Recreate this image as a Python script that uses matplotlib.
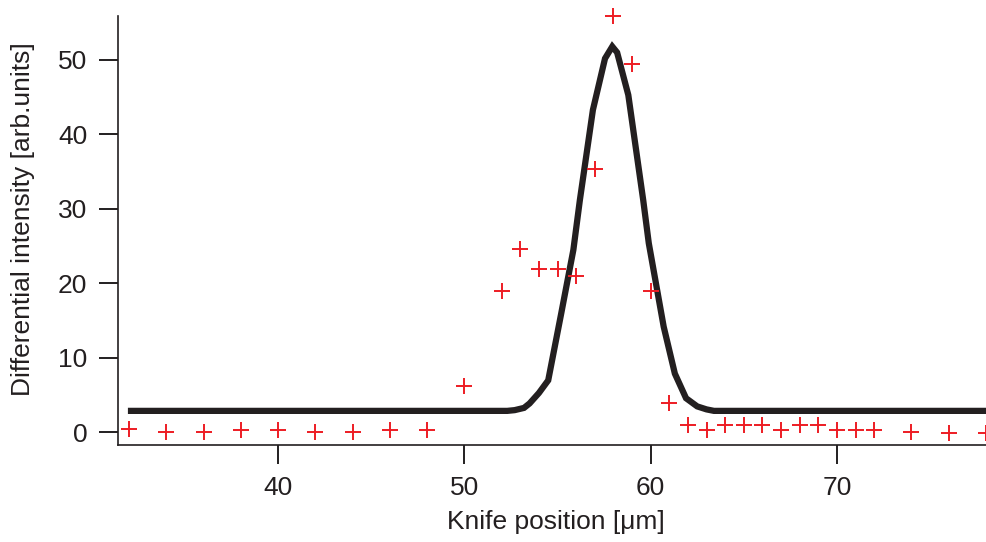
import matplotlib
matplotlib.use("Agg")
import matplotlib.pyplot as plt

plt.rcParams['font.family'] = ['Liberation Sans', 'DejaVu Sans']

# measured points (red crosses)
pos_x = [32, 34, 36, 38, 40, 42, 44, 46, 48, 50, 52, 53, 54, 55, 56, 57, 58, 59, 60,
         61, 62, 63, 64, 65, 66, 67, 68, 69, 70, 71, 72, 74, 76, 78]
intensity = [0.43, 0.1, 0.1, 0.4, 0.4, 0.1, 0.1, 0.4, 0.4, 6.24, 19.0, 24.6, 22.0, 22.0,
             21.0, 35.4, 55.9, 49.5, 19.0,
             3.9, 1.0, 0.34, 1.0, 1.0, 1.0, 0.34, 1.0, 1.0, 0.34, 0.34, 0.34, 0.1, -0.1, -0.1]

# fitted curve (vertices)
fit_x = [32.1, 52.3, 52.7, 53.2, 53.5, 54.0, 54.5, 55.2, 55.85, 56.2, 56.9, 57.55, 57.94,
         58.2, 58.8, 59.6, 59.9, 60.7, 61.3, 61.9, 62.5, 63.0, 63.4, 78.0]
fit_y = [2.9, 2.9, 3.0, 3.3, 3.9, 5.3, 7.0, 16.0, 24.5, 31.2, 43.3, 50.2, 51.8,
         51.0, 45.3, 31.2, 25.4, 14.2, 7.9, 4.6, 3.5, 3.1, 2.9, 2.9]

xticks = [40, 50, 60, 70]
yticks = [0, 10, 20, 30, 40, 50]

dark = '#231f20'
red = '#ed1c24'

fig = plt.figure(figsize=(9.87, 5.42), dpi=100)
ax = fig.add_axes([118/987, 1-445/542, 1-118/987, (445-16)/542])

ax.plot(fit_x, fit_y, color=dark, lw=4.5, solid_joinstyle='miter', zorder=2)
ax.plot(pos_x, intensity, linestyle='none', marker='+', markersize=11,
        markeredgewidth=1.4, color=red, clip_on=False, zorder=3)

ax.set_xlim(31.4, 78.06)
ax.set_ylim(-1.68, 55.9)
ax.set_xticks(xticks)
ax.set_yticks(yticks)

for s in ['top', 'right']:
    ax.spines[s].set_visible(False)
for s in ['left', 'bottom']:
    ax.spines[s].set_color(dark)
    ax.spines[s].set_linewidth(1.2)

ax.tick_params(axis='both', direction='out', length=13.5, width=1.4, color=dark,
               labelsize=19, labelcolor=dark)
ax.tick_params(axis='y', pad=8.5)
ax.tick_params(axis='x', pad=9)

ax.set_xlabel('Knife position [μm]', fontsize=19, color=dark)
ax.set_ylabel('Differential intensity [arb.units]', fontsize=19, color=dark)
ax.xaxis.set_label_coords((556-118)/(987-118), -(510-445)/(445-16))
ax.yaxis.set_label_coords(-(118-35)/(987-118), (445-219)/(445-16))

fig.savefig('out.png', dpi=100)
